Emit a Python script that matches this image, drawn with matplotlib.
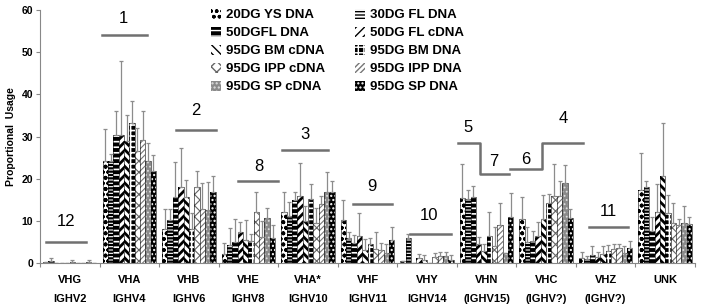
import matplotlib.pyplot as plt
import numpy as np

plt.rcParams['font.family'] = ['Liberation Sans', 'DejaVu Sans']

# groups along the x axis
groups = ['VHG', 'VHA', 'VHB', 'VHE', 'VHA*', 'VHF', 'VHY', 'VHN', 'VHC', 'VHZ', 'UNK']
groups2 = ['IGHV2', 'IGHV4', 'IGHV6', 'IGHV8', 'IGHV10', 'IGHV11', 'IGHV14',
           '(IGHV15)', '(IGHV?)', '(IGHV?)', '']

series = ['20DG YS DNA', '30DG FL DNA', '50DGFL DNA', '50DG FL cDNA',
          '95DG BM cDNA', '95DG BM DNA', '95DG IPP cDNA', '95DG IPP DNA',
          '95DG SP cDNA', '95DG SP DNA']

# mean usage, one row per group (10 series each)
usage = [
    [0.3, 0.6, 0, 0, 0, 0.4, 0, 0, 0.4, 0],
    [24.2, 24.2, 30.3, 30.3, 29.0, 33.2, 26.5, 29.3, 24.2, 21.8],
    [8.1, 10.2, 15.7, 18.1, 15.6, 8.1, 18.0, 12.8, 12.7, 16.8],
    [2.1, 4.3, 5.1, 7.4, 5.5, 5.3, 12.2, 6.2, 10.7, 6.1],
    [12.2, 11.1, 15.1, 16.0, 10.1, 15.2, 9.5, 14.0, 17.0, 16.8],
    [10.2, 6.1, 4.9, 6.5, 3.1, 4.5, 3.3, 3.1, 2.4, 5.5],
    [0.5, 6.0, 0, 1.2, 0.7, 0, 1.4, 1.7, 1.8, 0.7],
    [15.4, 15.3, 15.6, 4.5, 2.8, 6.4, 4.0, 9.0, 2.5, 11.0],
    [10.6, 5.0, 5.4, 6.5, 10.5, 14.2, 16.0, 16.0, 19.1, 10.7],
    [1.2, 1.0, 2.0, 1.5, 2.2, 3.0, 3.5, 3.6, 2.4, 3.6],
    [17.4, 18.0, 7.6, 12.2, 20.7, 11.9, 9.5, 9.0, 9.6, 9.3],
]
# top of the error bar
upper = [
    [0.3, 1.3, 0, 0, 0, 0.7, 0, 0, 0.7, 0],
    [31.8, 26.0, 36.0, 48.0, 35.2, 38.5, 32.0, 36.0, 28.5, 25.7],
    [12.8, 12.8, 23.9, 27.4, 19.8, 11.8, 21.9, 19.0, 19.3, 20.7],
    [4.9, 8.3, 10.4, 9.9, 10.2, 7.0, 16.8, 10.0, 13.0, 9.0],
    [16.8, 14.6, 17.0, 23.8, 13.5, 18.9, 13.0, 16.0, 21.7, 19.5],
    [15.1, 7.5, 6.7, 11.8, 5.7, 5.9, 7.5, 4.9, 4.6, 8.7],
    [0.5, 7.0, 0, 2.3, 2.0, 0, 2.4, 2.7, 2.7, 2.0],
    [23.5, 17.4, 18.3, 6.3, 4.6, 12.1, 8.7, 14.2, 2.5, 16.7],
    [15.7, 8.6, 7.7, 9.9, 16.2, 16.3, 23.5, 19.6, 23.3, 12.8],
    [2.7, 1.8, 4.1, 2.6, 4.0, 4.3, 4.6, 4.6, 4.1, 5.4],
    [26.2, 19.4, 11.0, 18.8, 33.3, 16.2, 14.2, 10.6, 13.5, 11.0],
]

# (face, hatch, hatch colour, hatch width) per series
styles = [
    ('white', 'ooo', 'black', 1.2),
    ('white', '-----', 'black', 1.6),
    ('black', '---', 'white', 1.2),
    ('white', '////', 'black', 2.0),
    ('white', '\\\\\\\\', 'black', 2.0),
    ('black', '+++', 'white', 1.2),
    ('white', 'xxx', '#666666', 0.8),
    ('white', '//////', '#777777', 0.8),
    ('#8a8a8a', '....', '#dddddd', 0.8),
    ('black', '....', 'white', 1.0),
]

usage = np.array(usage).T
upper = np.array(upper).T

fig = plt.figure(figsize=(7.02, 3.08), dpi=100)
ax = fig.add_axes([40 / 702, 44.7 / 308, 655 / 702, 253.3 / 308])

x = np.arange(len(groups))
w = 0.09
for i in range(len(series)):
    pos = x + (i - 4.5) * w
    face, hatch, hc, hw = styles[i]
    plt.rcParams['hatch.linewidth'] = hw
    ax.bar(pos, usage[i], w, color=face, edgecolor=hc, hatch=hatch, linewidth=0, label=series[i])
    ax.bar(pos, usage[i], w, fill=False, edgecolor='black', linewidth=0.4)
    err = upper[i] - usage[i]
    ax.errorbar(pos, usage[i], yerr=[np.zeros_like(err), err], fmt='none',
                ecolor='#8c8c8c', elinewidth=0.9, capsize=1.6, capthick=0.9)

ax.set_xlim(-0.5, len(groups) - 0.5)
ax.set_ylim(0, 60)
ax.set_yticks(range(0, 61, 10))
ax.set_xticks([])
ax.set_xticks(np.arange(-0.5, len(groups), 1), minor=True)
ax.tick_params(axis='x', which='minor', length=3, color='#888888', width=0.8)
ax.tick_params(axis='y', length=3, color='#888888', width=0.8, pad=2)
for lab in ax.get_yticklabels():
    lab.set_fontweight('bold')
    lab.set_fontsize(7.5)
for s in ['top', 'right']:
    ax.spines[s].set_visible(False)
for s in ['left', 'bottom']:
    ax.spines[s].set_color('#888888')
    ax.spines[s].set_linewidth(0.8)

ax.set_ylabel('Proportional  Usage', fontsize=7.5, fontweight='bold', labelpad=4)

for i in range(len(groups)):
    ax.text(x[i], -3.95, groups[i], ha='center', va='center', fontsize=8,
            fontweight='bold', clip_on=False)
    ax.text(x[i], -8.46, groups2[i], ha='center', va='center', fontsize=8,
            fontweight='bold', clip_on=False)

# cluster markers
line_kw = dict(color='#707070', lw=1.8, clip_on=False)
marks = [
    ('1', 0.895, 57.9, [0.542, 1.298], [54.1, 54.1]),
    ('2', 2.12, 36.3, [1.786, 2.458], [31.5, 31.5]),
    ('3', 3.954, 30.4, [3.562, 4.329], [26.8, 26.8]),
    ('8', 3.169, 22.9, [2.833, 3.505], [19.5, 19.5]),
    ('9', 5.075, 18.2, [4.749, 5.411], [14.0, 14.0]),
    ('10', 6.026, 11.4, [5.718, 6.408], [6.9, 6.9]),
    ('11', 9.041, 12.2, [8.715, 9.377], [8.7, 8.7]),
    ('12', -0.068, 9.9, [-0.404, 0.268], [5.1, 5.1]),
    ('5', 6.68, 32.2, [6.513, 6.895, 6.895, 7.371], [28.5, 28.5, 21.1, 21.1]),
    ('7', 7.113, 24.2, None, None),
    ('6', 7.651, 24.7, [7.387, 7.932, 7.932, 8.621], [22.4, 22.4, 28.4, 28.4]),
    ('4', 8.295, 34.4, None, None),
]
for txt, tx, ty, lx, ly in marks:
    ax.text(tx, ty, txt, ha='center', va='center', fontsize=12)
    if lx is not None:
        ax.plot(lx, ly, **line_kw)

# legend fills row by row in the original
handles, labels = ax.get_legend_handles_labels()
order = [0, 2, 4, 6, 8, 1, 3, 5, 7, 9]
ax.legend([handles[k] for k in order], [labels[k] for k in order],
          loc='upper left', bbox_to_anchor=(211 / 702, 1 - 9 / 308),
          bbox_transform=fig.transFigure, ncol=2, frameon=False,
          prop={'weight': 'bold', 'size': 9.5}, handlelength=0.75, handleheight=0.75,
          handletextpad=0.35, columnspacing=2.3, labelspacing=0.42, borderpad=0,
          borderaxespad=0)

plt.savefig('out.png', dpi=100)
plt.close()
